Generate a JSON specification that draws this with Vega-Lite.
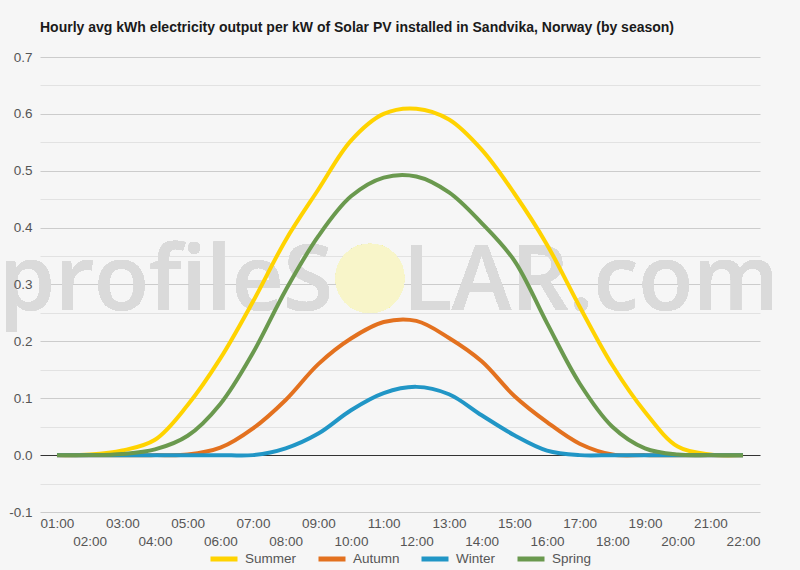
{
  "$schema": "https://vega.github.io/schema/vega-lite/v6.json",
  "width": 720,
  "height": 455,
  "autosize": {"type": "none"},
  "padding": {"left": 40, "top": 57, "right": 40, "bottom": 58},
  "background": "#f6f6f6",
  "title": {
    "text": "Hourly avg kWh electricity output per kW of Solar PV installed in Sandvika, Norway (by season)",
    "anchor": "start",
    "frame": "group",
    "offset": 15,
    "font": "Liberation Sans",
    "fontSize": 14,
    "fontWeight": "bold",
    "color": "#1a1a1a"
  },
  "config": {
    "view": {"stroke": null},
    "font": "Liberation Sans"
  },
  "resolve": {"axis": {"x": "independent", "y": "independent"}},
  "data": {
    "values": [
      {"hour": 1, "season": "Summer", "kwh": 0},
      {"hour": 2, "season": "Summer", "kwh": 0.001},
      {"hour": 3, "season": "Summer", "kwh": 0.008},
      {"hour": 4, "season": "Summer", "kwh": 0.027},
      {"hour": 5, "season": "Summer", "kwh": 0.088},
      {"hour": 6, "season": "Summer", "kwh": 0.17},
      {"hour": 7, "season": "Summer", "kwh": 0.27},
      {"hour": 8, "season": "Summer", "kwh": 0.378},
      {"hour": 9, "season": "Summer", "kwh": 0.467},
      {"hour": 10, "season": "Summer", "kwh": 0.553},
      {"hour": 11, "season": "Summer", "kwh": 0.6},
      {"hour": 12, "season": "Summer", "kwh": 0.609},
      {"hour": 13, "season": "Summer", "kwh": 0.59},
      {"hour": 14, "season": "Summer", "kwh": 0.537},
      {"hour": 15, "season": "Summer", "kwh": 0.46},
      {"hour": 16, "season": "Summer", "kwh": 0.37},
      {"hour": 17, "season": "Summer", "kwh": 0.261},
      {"hour": 18, "season": "Summer", "kwh": 0.158},
      {"hour": 19, "season": "Summer", "kwh": 0.076},
      {"hour": 20, "season": "Summer", "kwh": 0.015},
      {"hour": 21, "season": "Summer", "kwh": 0.001},
      {"hour": 22, "season": "Summer", "kwh": 0},
      {"hour": 1, "season": "Autumn", "kwh": 0},
      {"hour": 2, "season": "Autumn", "kwh": 0},
      {"hour": 3, "season": "Autumn", "kwh": 0},
      {"hour": 4, "season": "Autumn", "kwh": 0},
      {"hour": 5, "season": "Autumn", "kwh": 0.001},
      {"hour": 6, "season": "Autumn", "kwh": 0.013},
      {"hour": 7, "season": "Autumn", "kwh": 0.047},
      {"hour": 8, "season": "Autumn", "kwh": 0.097},
      {"hour": 9, "season": "Autumn", "kwh": 0.16},
      {"hour": 10, "season": "Autumn", "kwh": 0.205},
      {"hour": 11, "season": "Autumn", "kwh": 0.234},
      {"hour": 12, "season": "Autumn", "kwh": 0.236},
      {"hour": 13, "season": "Autumn", "kwh": 0.206},
      {"hour": 14, "season": "Autumn", "kwh": 0.165},
      {"hour": 15, "season": "Autumn", "kwh": 0.104},
      {"hour": 16, "season": "Autumn", "kwh": 0.058},
      {"hour": 17, "season": "Autumn", "kwh": 0.02},
      {"hour": 18, "season": "Autumn", "kwh": 0.001},
      {"hour": 19, "season": "Autumn", "kwh": 0},
      {"hour": 20, "season": "Autumn", "kwh": 0},
      {"hour": 21, "season": "Autumn", "kwh": 0},
      {"hour": 22, "season": "Autumn", "kwh": 0},
      {"hour": 1, "season": "Winter", "kwh": 0},
      {"hour": 2, "season": "Winter", "kwh": 0},
      {"hour": 3, "season": "Winter", "kwh": 0},
      {"hour": 4, "season": "Winter", "kwh": 0},
      {"hour": 5, "season": "Winter", "kwh": 0},
      {"hour": 6, "season": "Winter", "kwh": 0},
      {"hour": 7, "season": "Winter", "kwh": 0},
      {"hour": 8, "season": "Winter", "kwh": 0.012},
      {"hour": 9, "season": "Winter", "kwh": 0.038},
      {"hour": 10, "season": "Winter", "kwh": 0.079},
      {"hour": 11, "season": "Winter", "kwh": 0.109},
      {"hour": 12, "season": "Winter", "kwh": 0.12},
      {"hour": 13, "season": "Winter", "kwh": 0.107},
      {"hour": 14, "season": "Winter", "kwh": 0.07},
      {"hour": 15, "season": "Winter", "kwh": 0.035},
      {"hour": 16, "season": "Winter", "kwh": 0.008},
      {"hour": 17, "season": "Winter", "kwh": 0},
      {"hour": 18, "season": "Winter", "kwh": 0},
      {"hour": 19, "season": "Winter", "kwh": 0},
      {"hour": 20, "season": "Winter", "kwh": 0},
      {"hour": 21, "season": "Winter", "kwh": 0},
      {"hour": 22, "season": "Winter", "kwh": 0},
      {"hour": 1, "season": "Spring", "kwh": 0},
      {"hour": 2, "season": "Spring", "kwh": 0},
      {"hour": 3, "season": "Spring", "kwh": 0.002},
      {"hour": 4, "season": "Spring", "kwh": 0.01},
      {"hour": 5, "season": "Spring", "kwh": 0.034},
      {"hour": 6, "season": "Spring", "kwh": 0.09},
      {"hour": 7, "season": "Spring", "kwh": 0.18},
      {"hour": 8, "season": "Spring", "kwh": 0.29},
      {"hour": 9, "season": "Spring", "kwh": 0.385},
      {"hour": 10, "season": "Spring", "kwh": 0.455},
      {"hour": 11, "season": "Spring", "kwh": 0.488},
      {"hour": 12, "season": "Spring", "kwh": 0.49},
      {"hour": 13, "season": "Spring", "kwh": 0.462},
      {"hour": 14, "season": "Spring", "kwh": 0.408},
      {"hour": 15, "season": "Spring", "kwh": 0.342},
      {"hour": 16, "season": "Spring", "kwh": 0.232},
      {"hour": 17, "season": "Spring", "kwh": 0.126},
      {"hour": 18, "season": "Spring", "kwh": 0.05},
      {"hour": 19, "season": "Spring", "kwh": 0.012},
      {"hour": 20, "season": "Spring", "kwh": 0.001},
      {"hour": 21, "season": "Spring", "kwh": 0},
      {"hour": 22, "season": "Spring", "kwh": 0}
    ]
  },
  "layer": [
    {
      "mark": {"type": "text", "text": "profileS", "align": "right", "baseline": "alphabetic", "font": "Open Sans", "fontWeight": 600, "fontSize": 90, "fill": "#dadada"},
      "encoding": {
        "x": {"datum": 9.45, "type": "quantitative", "axis": null},
        "y": {"datum": 0.255, "type": "quantitative", "axis": null}
      }
    },
    {
      "mark": {"type": "text", "text": "LAR.com", "align": "left", "baseline": "alphabetic", "font": "Open Sans", "fontWeight": 600, "fontSize": 90, "fill": "#dadada"},
      "encoding": {
        "x": {"datum": 11.59, "type": "quantitative", "axis": null},
        "y": {"datum": 0.255, "type": "quantitative", "axis": null}
      }
    },
    {
      "mark": {"type": "point", "shape": "circle", "filled": true, "size": 4778, "fill": "#f8f5c9", "strokeWidth": 0},
      "encoding": {
        "x": {
          "datum": 10.58,
          "type": "quantitative",
          "axis": {
            "title": null,
            "orient": "bottom",
            "values": [2, 4, 6, 8, 10, 12, 14, 16, 18, 20, 22],
            "labelExpr": "(datum.value < 10 ? '0' : '') + datum.value + ':00'",
            "labelOverlap": false,
            "labelFlush": false,
            "labelBaseline": "top",
            "labelPadding": 22,
            "labelFontSize": 13.5,
            "labelColor": "#555555",
            "grid": false,
            "ticks": false,
            "domain": false
          }
        },
        "y": {
          "datum": 0.311,
          "type": "quantitative",
          "axis": {
            "title": null,
            "orient": "left",
            "zindex": 1,
            "values": [-0.1, 0, 0.1, 0.2, 0.3, 0.4, 0.5, 0.6, 0.7],
            "labelExpr": "replace(format(datum.value, '.1f'), '\u2212', '-')",
            "labelFontSize": 13.5,
            "labelColor": "#555555",
            "labelPadding": 8,
            "labelFlush": false,
            "labelOverlap": false,
            "ticks": false,
            "domain": false,
            "grid": false
          }
        }
      }
    },
    {
      "mark": {"type": "line", "interpolate": "catmull-rom", "strokeWidth": 4, "strokeCap": "butt", "strokeJoin": "round"},
      "encoding": {
        "x": {
          "field": "hour",
          "type": "quantitative",
          "scale": {"domain": [0.48, 22.52], "nice": false, "zero": false},
          "axis": {
            "title": null,
            "orient": "bottom",
            "values": [1, 3, 5, 7, 9, 11, 13, 15, 17, 19, 21],
            "labelExpr": "(datum.value < 10 ? '0' : '') + datum.value + ':00'",
            "labelOverlap": false,
            "labelFlush": false,
            "labelBaseline": "top",
            "labelPadding": 4,
            "labelFontSize": 13.5,
            "labelColor": "#555555",
            "grid": false,
            "ticks": false,
            "domain": false
          }
        },
        "y": {
          "field": "kwh",
          "type": "quantitative",
          "scale": {"domain": [-0.1, 0.7], "nice": false, "zero": false},
          "axis": {
            "title": null,
            "orient": "left",
            "zindex": 0,
            "values": [-0.1, -0.05, 0, 0.05, 0.1, 0.15, 0.2, 0.25, 0.3, 0.35, 0.4, 0.45, 0.5, 0.55, 0.6, 0.65, 0.7],
            "labels": false,
            "ticks": false,
            "domain": false,
            "grid": true,
            "gridColor": {
              "condition": [
                {"test": "abs(datum.value) < 0.000001", "value": "#333333"},
                {"test": "round(datum.value * 20) % 2 != 0", "value": "#e2e2e2"}
              ],
              "value": "#cccccc"
            }
          }
        },
        "color": {
          "field": "season",
          "type": "nominal",
          "sort": ["Summer", "Autumn", "Winter", "Spring"],
          "scale": {
            "domain": ["Summer", "Autumn", "Winter", "Spring"],
            "range": ["#FFD300", "#E3711F", "#2196C6", "#6A994E"]
          },
          "legend": {
            "title": null,
            "orient": "none",
            "legendX": 168,
            "legendY": 486,
            "direction": "horizontal",
            "gridAlign": "none",
            "symbolType": "stroke",
            "symbolStrokeWidth": 5,
            "symbolSize": 729,
            "labelFontSize": 13.5,
            "labelColor": "#555555",
            "labelOffset": 5,
            "columnPadding": 11
          }
        }
      }
    }
  ]
}
